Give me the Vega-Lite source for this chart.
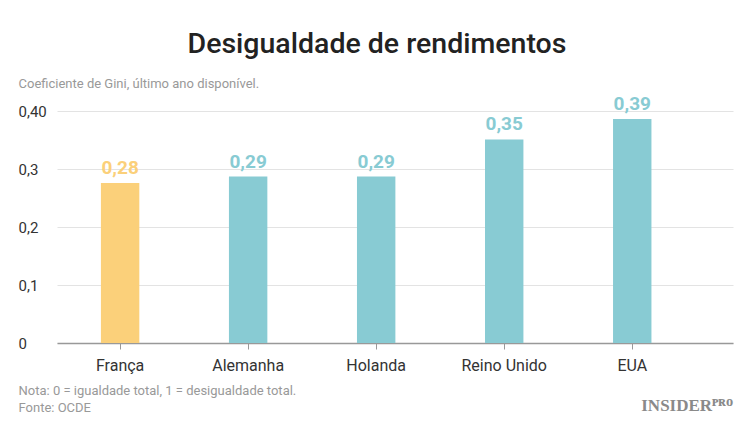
{
  "$schema": "https://vega.github.io/schema/vega-lite/v6.json",
  "width": 676,
  "height": 232,
  "autosize": "none",
  "padding": {"left": 57, "top": 111, "right": 17, "bottom": 80},
  "background": "white",
  "title": {
    "text": "Desigualdade de rendimentos",
    "font": "Roboto",
    "fontSize": 28.5,
    "fontWeight": 500,
    "color": "#222222",
    "anchor": "middle",
    "frame": "group",
    "dx": -18,
    "offset": 19
  },
  "data": {
    "values": [
      {"pais": "França", "gini": 0.276},
      {"pais": "Alemanha", "gini": 0.287},
      {"pais": "Holanda", "gini": 0.287},
      {"pais": "Reino Unido", "gini": 0.351},
      {"pais": "EUA", "gini": 0.386}
    ]
  },
  "encoding": {
    "x": {
      "field": "pais",
      "type": "nominal",
      "sort": null,
      "scale": {"paddingInner": 0.7, "paddingOuter": 0.49, "align": 0.35},
      "axis": {
        "title": ["Nota: 0 = igualdade total, 1 = desigualdade total.", "Fonte: OCDE"],
        "titleFont": "Roboto",
        "titleFontSize": 13,
        "titleFontWeight": "normal",
        "titleColor": "#999999",
        "titleAlign": "left",
        "titleBaseline": "top",
        "titleLineHeight": 17,
        "titleX": -39,
        "titleY": 41,
        "labelAngle": 0,
        "labelFont": "Roboto",
        "labelFontSize": 16,
        "labelColor": "#333333",
        "labelPadding": 8,
        "tickColor": "#999999",
        "tickSize": 6,
        "domainColor": "#999999",
        "domainWidth": 1.5
      }
    },
    "y": {
      "field": "gini",
      "type": "quantitative",
      "scale": {"domain": [0, 0.4], "nice": false}
    }
  },
  "layer": [
    {
      "mark": {"type": "bar"},
      "encoding": {
        "y": {
          "field": "gini",
          "type": "quantitative",
          "scale": {"domain": [0, 0.4], "nice": false},
          "axis": {
            "values": [0, 0.1, 0.2, 0.3, 0.4],
            "format": ".1f",
            "labelExpr": "datum.value >= 0.4 ? '0,40' : (datum.value == 0 ? '0' : replace(datum.label, '.', ','))",
            "labelAlign": "left",
            "labelPadding": 39,
            "labelFont": "Roboto",
            "labelFontSize": 15,
            "labelColor": "#333333",
            "ticks": false,
            "tickSize": 0,
            "domain": false,
            "gridColor": "#e3e3e3",
            "title": "Coeficiente de Gini, último ano disponível.",
            "titleAngle": 0,
            "titleAlign": "left",
            "titleBaseline": "middle",
            "titleX": -39,
            "titleY": -28,
            "titleFont": "Roboto",
            "titleFontSize": 13,
            "titleFontWeight": "normal",
            "titleColor": "#999999"
          }
        },
        "color": {
          "field": "pais",
          "type": "nominal",
          "scale": {
            "domain": ["França", "Alemanha", "Holanda", "Reino Unido", "EUA"],
            "range": ["#FBD07A", "#88CBD3", "#88CBD3", "#88CBD3", "#88CBD3"]
          },
          "legend": null
        }
      }
    },
    {
      "mark": {"type": "text", "dy": -15, "font": "Roboto", "fontSize": 19, "fontWeight": "bold"},
      "encoding": {
        "y": {
          "field": "gini",
          "type": "quantitative",
          "scale": {"domain": [0, 0.4], "nice": false},
          "axis": {
            "orient": "right",
            "labels": false,
            "ticks": false,
            "domain": false,
            "grid": false,
            "title": "INSIDERᴾᴿᴼ",
            "titleAngle": 0,
            "titleAlign": "right",
            "titleBaseline": "middle",
            "titleX": 0,
            "titleY": 294,
            "titleFont": "Liberation Serif",
            "titleFontSize": 17,
            "titleFontWeight": "bold",
            "titleColor": "#8a8a8a"
          }
        },
        "text": {"field": "gini", "type": "quantitative", "format": ".2f"},
        "color": {
          "field": "pais",
          "type": "nominal",
          "scale": {
            "domain": ["França", "Alemanha", "Holanda", "Reino Unido", "EUA"],
            "range": ["#FCC556", "#7DC8D1", "#7DC8D1", "#7DC8D1", "#7DC8D1"]
          },
          "legend": null
        }
      }
    }
  ],
  "resolve": {"scale": {"y": "independent"}, "axis": {"y": "independent"}},
  "config": {
    "view": {"stroke": null},
    "locale": {
      "number": {"decimal": ",", "thousands": ".", "grouping": [3], "currency": ["", ""]}
    }
  }
}
